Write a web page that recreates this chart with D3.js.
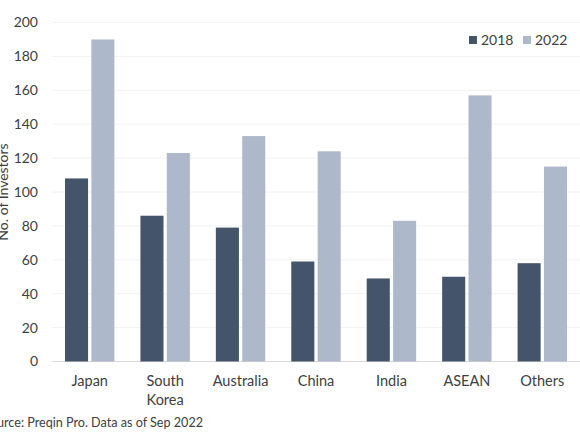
<!DOCTYPE html>
<html><head><meta charset="utf-8">
<script src="https://cdn.jsdelivr.net/npm/d3@7/dist/d3.min.js"></script>
<style>
html,body{margin:0;padding:0;background:#fff;overflow:hidden;}
text{font-family:Lato,"Noto Sans",sans-serif;fill:#404040;}
</style></head>
<body>
<svg id="c" width="580" height="435"></svg>
<script>
const categories = [["Japan"],["South","Korea"],["Australia"],["China"],["India"],["ASEAN"],["Others"]];
const seriesNames = ["2018","2022"];
const values2018 = [108, 86, 79, 59, 49, 50, 58];
const values2022 = [190, 123, 133, 124, 83, 157, 115];
const yTicks = [0,20,40,60,80,100,120,140,160,180,200];
const colors = ["#44546a","#adb9ca"];

(function(){
const svg = d3.select("#c");
const mLeft = 52, mRight = 580, mTop = 22.5, mBottom = 361.5;
const keys = categories.map(c => c.join(" "));
const x = d3.scaleBand().domain(keys).range([mLeft, mRight]).paddingInner(0).paddingOuter(0);
const y = d3.scaleLinear().domain([0,200]).range([mBottom, mTop]);
const inner = d3.scaleBand().domain(seriesNames).range([13, x.bandwidth()-13]).paddingInner(0.125);

// gridlines
svg.append("g").selectAll("line").data(yTicks).join("line")
  .attr("x1", mLeft).attr("x2", mRight)
  .attr("y1", d => y(d)).attr("y2", d => y(d))
  .attr("stroke", d => d === 0 ? "#d9d9d9" : "#f2f2f2").attr("stroke-width", 1);

// y tick labels
svg.append("g").selectAll("text").data(yTicks).join("text")
  .attr("x", 38).attr("y", d => y(d)).attr("dy", "0.35em")
  .attr("text-anchor", "end").style("font-size", "14px")
  .text(d => d);

// bars
const data = keys.map((k, i) => ({k, v: [values2018[i], values2022[i]]}));
const g = svg.append("g");
data.forEach(d => {
  seriesNames.forEach((s, j) => {
    g.append("rect")
      .attr("x", x(d.k) + inner(s))
      .attr("width", inner.bandwidth())
      .attr("y", y(d.v[j]))
      .attr("height", y(0) - y(d.v[j]))
      .attr("fill", colors[j]);
  });
});

// category labels
const cl = svg.append("g");
categories.forEach((c, i) => {
  const t = cl.append("text").attr("text-anchor", "middle").style("font-size", "14.5px");
  c.forEach((line, li) => {
    t.append("tspan").attr("x", x(keys[i]) + x.bandwidth()/2).attr("y", 386 + li*19).text(line);
  });
});

// y title
svg.append("text").attr("transform", "translate(8,192) rotate(-90)")
  .attr("text-anchor", "middle").style("font-size", "14px").text("No. of Investors");

// legend
const lx = [469, 523];
seriesNames.forEach((s, j) => {
  svg.append("rect").attr("x", lx[j]).attr("y", 36).attr("width", 8).attr("height", 8).attr("fill", colors[j]);
  svg.append("text").attr("x", lx[j] + 12).attr("y", 45).style("font-size", "14px").text(s);
});

// source
svg.append("text").attr("x", 203).attr("y", 427).attr("text-anchor", "end")
  .style("font-size", "12.6px").text("Source: Preqin Pro. Data as of Sep 2022");
})();
</script>
</body></html>
